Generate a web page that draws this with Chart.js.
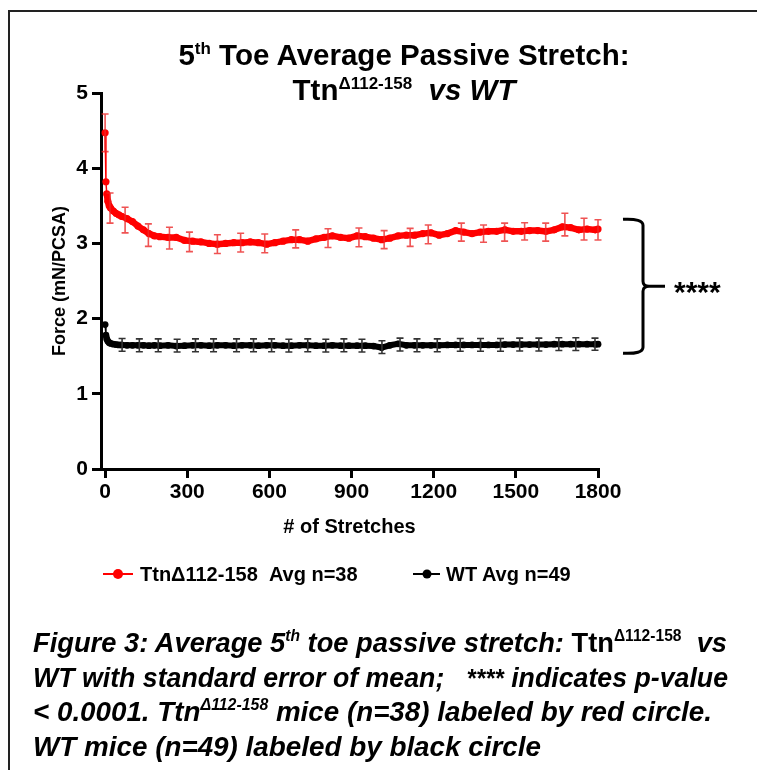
<!DOCTYPE html>
<html>
<head>
<meta charset="utf-8">
<script src="https://cdn.jsdelivr.net/npm/chart.js@4"></script>
<style>
  body { margin: 0; background: #fff; }
  #page { position: relative; width: 757px; height: 770px; overflow: hidden; font-family: "Liberation Sans", Arial, sans-serif; color: #000; }
  #frame { position: absolute; left: 8px; top: 10px; width: 800px; height: 800px; border-top: 2px solid #222; border-left: 2px solid #222; }
  #myChart { position: absolute; left: 0; top: 0; }
  .title { position: absolute; left: 0; width: 808px; text-align: center; font-weight: bold; font-size: 29.5px; line-height: 29.5px; white-space: nowrap; }
  .tsup { font-size: 17px; position: relative; top: -11px; }
  .cap { position: absolute; left: 33px; font-family: "Liberation Sans Narrow", "Arial Narrow", "Liberation Sans", sans-serif; font-weight: bold; font-size: 28px; line-height: 28px; white-space: nowrap; transform-origin: 0 0; }
  .cap i { font-style: italic; }
  .csup { font-size: 16px; position: relative; top: -11px; }
  .stars { font-size: 25px; }
  .legend { position: absolute; top: 564px; font-weight: bold; font-size: 20px; line-height: 20px; white-space: nowrap; }
</style>
</head>
<body>
<div id="page">
  <div id="frame"></div>
  <canvas id="myChart" width="757" height="770"></canvas>
  <div class="title" style="top:40px">5<span class="tsup">th</span> Toe Average Passive Stretch:</div>
  <div class="title" style="top:75px">Ttn<span class="tsup">Δ112-158</span>&nbsp; <i>vs WT</i></div>

  <svg style="position:absolute;left:100px;top:566px" width="40" height="16">
    <line x1="3" y1="8" x2="33" y2="8" stroke="#ff0000" stroke-width="2"/>
    <circle cx="18" cy="8" r="5" fill="#ff0000"/>
  </svg>
  <div class="legend" style="left:140px">TtnΔ112-158&nbsp; Avg n=38</div>
  <svg style="position:absolute;left:410px;top:566px" width="36" height="16">
    <line x1="3" y1="8" x2="30" y2="8" stroke="#000" stroke-width="2"/>
    <circle cx="17" cy="8" r="4.5" fill="#000"/>
  </svg>
  <div class="legend" style="left:446px">WT Avg n=49</div>

  <div class="cap" data-right="727" style="top:629px"><i>Figure 3: Average 5<span class="csup">th</span> toe passive stretch:</i> Ttn<span class="csup">Δ112-158</span>&nbsp; <i>vs</i></div>
  <div class="cap" data-right="728" style="top:664px"><i>WT with standard error of mean; &nbsp; <span class="stars">****</span> indicates p-value</i></div>
  <div class="cap" data-right="712" style="top:698px"><i>&lt; 0.0001. Ttn<span class="csup">Δ112-158</span> mice (n=38) labeled by red circle.</i></div>
  <div class="cap" data-right="541" style="top:733px"><i>WT mice (n=49) labeled by black circle</i></div>
</div>
<script>
const fontFamily = "'Liberation Sans', Arial, sans-serif";

// # of stretches where the averaged curves were read
const stretches = [0, 3, 6, 10, 15, 20, 30, 40, 50, 60, 80, 100, 120, 140, 160, 180, 200, 230, 260, 290,
  320, 350, 380, 410, 440, 470, 500, 530, 560, 590, 620, 650, 680, 710, 740, 770, 800, 830, 860, 890,
  920, 950, 980, 1010, 1040, 1070, 1100, 1130, 1160, 1190, 1220, 1250, 1280, 1310, 1340, 1370, 1400, 1430, 1460, 1490,
  1520, 1550, 1580, 1610, 1640, 1670, 1700, 1730, 1760, 1790, 1800];

const ttnMean = [4.47, 3.82, 3.66, 3.56, 3.50, 3.47, 3.43, 3.40, 3.38, 3.36, 3.33, 3.29, 3.23, 3.18, 3.13, 3.10, 3.09, 3.08, 3.08, 3.04,
  3.03, 3.02, 3.00, 2.99, 3.00, 3.01, 3.01, 3.02, 3.01, 2.99, 3.01, 3.03, 3.05, 3.05, 3.03, 3.06, 3.08, 3.10, 3.08, 3.07,
  3.10, 3.09, 3.07, 3.05, 3.07, 3.10, 3.11, 3.11, 3.13, 3.14, 3.11, 3.13, 3.17, 3.15, 3.13, 3.15, 3.16, 3.16, 3.18, 3.16,
  3.16, 3.17, 3.17, 3.16, 3.18, 3.22, 3.21, 3.18, 3.19, 3.18, 3.19];

const wtMean = [1.92, 1.78, 1.73, 1.70, 1.68, 1.67, 1.66, 1.655, 1.65, 1.65, 1.645, 1.645, 1.645, 1.645, 1.64, 1.645, 1.64, 1.645, 1.635, 1.64,
  1.645, 1.645, 1.64, 1.645, 1.645, 1.64, 1.645, 1.645, 1.64, 1.645, 1.645, 1.64, 1.64, 1.645, 1.645, 1.64, 1.64, 1.645, 1.64, 1.64,
  1.64, 1.64, 1.635, 1.615, 1.645, 1.665, 1.645, 1.645, 1.645, 1.645, 1.645, 1.65, 1.65, 1.65, 1.65, 1.65, 1.65, 1.65, 1.655, 1.655,
  1.655, 1.655, 1.655, 1.655, 1.66, 1.66, 1.66, 1.66, 1.66, 1.66, 1.66];

// error bars (standard error of mean) shown at a subset of stretches
const ttnBarStretch = [0, 18, 73, 158, 235, 308, 410, 495, 583, 696, 814, 927, 1019, 1114, 1180, 1301, 1382, 1459, 1532, 1609, 1679, 1749, 1800];
const ttnBarMean = [4.47, 3.47, 3.31, 3.11, 3.07, 3.02, 2.99, 3.01, 3.00, 3.06, 3.07, 3.08, 3.05, 3.08, 3.12, 3.15, 3.13, 3.15, 3.16, 3.15, 3.25, 3.19, 3.18];
const ttnBarSem = [0.25, 0.20, 0.17, 0.15, 0.145, 0.13, 0.125, 0.125, 0.125, 0.12, 0.125, 0.125, 0.12, 0.12, 0.125, 0.12, 0.115, 0.12, 0.115, 0.12, 0.15, 0.145, 0.135];

const wtBarStretch = [62, 125, 194, 263, 330, 396, 480, 542, 608, 671, 740, 806, 872, 938, 1011, 1077, 1139, 1213, 1297, 1371, 1444, 1514, 1584, 1657, 1719, 1789];
const wtBarMean = [1.65, 1.645, 1.645, 1.64, 1.645, 1.645, 1.645, 1.645, 1.645, 1.64, 1.645, 1.64, 1.645, 1.64, 1.62, 1.655, 1.645, 1.645, 1.65, 1.65, 1.65, 1.655, 1.655, 1.66, 1.66, 1.66];
const wtBarSem = [0.085, 0.085, 0.085, 0.085, 0.085, 0.085, 0.085, 0.085, 0.085, 0.085, 0.085, 0.085, 0.085, 0.085, 0.085, 0.085, 0.085, 0.085, 0.085, 0.085, 0.085, 0.085, 0.085, 0.085, 0.085, 0.08];

const xTicks = [0, 300, 600, 900, 1200, 1500, 1800];
const yTicks = [0, 1, 2, 3, 4, 5];

// significance bracket spans the two curves
const bracketTop = 3.32;
const bracketBottom = 1.54;
const bracketLabel = "****";

const errorBars = {
  id: "errorBars",
  afterDatasetsDraw(chart) {
    const { ctx, scales: { x, y } } = chart;
    const draw = (xs, means, sems, color) => {
      ctx.save();
      ctx.strokeStyle = color;
      ctx.lineWidth = 1.6;
      xs.forEach((s, i) => {
        const px = x.getPixelForValue(s);
        const top = y.getPixelForValue(means[i] + sems[i]);
        const bot = y.getPixelForValue(means[i] - sems[i]);
        ctx.beginPath();
        ctx.moveTo(px, top); ctx.lineTo(px, bot);
        ctx.moveTo(px - 3.5, top); ctx.lineTo(px + 3.5, top);
        ctx.moveTo(px - 3.5, bot); ctx.lineTo(px + 3.5, bot);
        ctx.stroke();
      });
      ctx.restore();
    };
    draw(ttnBarStretch, ttnBarMean, ttnBarSem, "rgba(235, 40, 40, 0.8)");
    draw(wtBarStretch, wtBarMean, wtBarSem, "#333");
  },
};

const bracket = {
  id: "bracket",
  afterDraw(chart) {
    const { ctx, chartArea, scales: { y } } = chart;
    const x0 = chartArea.right + 25;
    const x1 = chartArea.right + 45;
    const tip = chartArea.right + 67;
    const yT = y.getPixelForValue(bracketTop);
    const yB = y.getPixelForValue(bracketBottom);
    const mid = (yT + yB) / 2;
    ctx.save();
    ctx.strokeStyle = "#000";
    ctx.lineWidth = 3;
    ctx.beginPath();
    ctx.moveTo(x0, yT);
    ctx.quadraticCurveTo(x1, yT - 1, x1, yT + 6);
    ctx.lineTo(x1, mid - 5);
    ctx.quadraticCurveTo(x1, mid, x1 + 6, mid);
    ctx.quadraticCurveTo(x1, mid, x1, mid + 5);
    ctx.lineTo(x1, yB - 6);
    ctx.quadraticCurveTo(x1, yB + 1, x0, yB);
    ctx.moveTo(x1 + 5, mid);
    ctx.lineTo(tip, mid);
    ctx.stroke();
    ctx.fillStyle = "#000";
    ctx.font = "bold 30px " + fontFamily;
    ctx.textBaseline = "alphabetic";
    ctx.fillText(bracketLabel, chartArea.right + 76, mid + 16);
    ctx.restore();
  },
};

const tickFont = { family: fontFamily, size: 21, weight: "bold" };
// the first drops of each curve are separate points, not part of the thick band
const thinStart = (n) => (c) => (c.p0DataIndex < n ? 1.5 : undefined);

new Chart(document.getElementById("myChart"), {
  type: "line",
  data: {
    datasets: [
      {
        label: "TtnΔ112-158  Avg n=38",
        data: stretches.map((s, i) => ({ x: s, y: ttnMean[i] })),
        borderColor: "#ff0000",
        backgroundColor: "#ff0000",
        borderWidth: 6.5,
        pointRadius: 3.6,
        pointBorderWidth: 0,
        tension: 0,
        segment: { borderWidth: thinStart(2) },
      },
      {
        label: "WT Avg n=49",
        data: stretches.map((s, i) => ({ x: s, y: wtMean[i] })),
        borderColor: "#000",
        backgroundColor: "#000",
        borderWidth: 6,
        pointRadius: 3.4,
        pointBorderWidth: 0,
        tension: 0,
        segment: { borderWidth: thinStart(1) },
      },
    ],
  },
  options: {
    responsive: false,
    animation: false,
    clip: false,
    layout: { padding: { top: 93, right: 159, bottom: 221, left: 0 } },
    plugins: { legend: { display: false }, tooltip: { enabled: false } },
    scales: {
      x: {
        type: "linear",
        min: -15,
        max: 1800,
        afterBuildTicks: (s) => { s.ticks = xTicks.map((v) => ({ value: v })); },
        afterFit: (s) => { s.height = 80; },
        border: { color: "#000", width: 3 },
        grid: { drawOnChartArea: false, drawTicks: true, tickLength: 9, tickWidth: 3, tickColor: "#000", color: "#000", lineWidth: 3 },
        ticks: { color: "#000", font: tickFont, padding: 2, maxRotation: 0, autoSkip: false, callback: (v) => String(v) },
        title: { display: true, text: "# of Stretches", color: "#000", font: { family: fontFamily, size: 20, weight: "bold" }, padding: { top: 0, bottom: 10 } },
      },
      y: {
        min: 0,
        max: 5,
        afterBuildTicks: (s) => { s.ticks = yTicks.map((v) => ({ value: v })); },
        afterFit: (s) => { s.width = 101; },
        border: { color: "#000", width: 3 },
        grid: { drawOnChartArea: false, drawTicks: true, tickLength: 9, tickWidth: 3, tickColor: "#000", color: "#000", lineWidth: 3 },
        ticks: { color: "#000", font: tickFont, padding: 4, callback: (v) => String(v) },
        title: { display: true, text: "Force (mN/PCSA)", color: "#000", font: { family: fontFamily, size: 18, weight: "bold" }, padding: { top: 49, bottom: 0 } },
      },
    },
  },
  plugins: [errorBars, bracket],
});

// fit each caption line to the width it has in the figure (narrow font)
document.querySelectorAll(".cap").forEach((el) => {
  const w = el.getBoundingClientRect().width;
  const target = Number(el.dataset.right) - 33;
  el.style.transform = "scaleX(" + (target / w).toFixed(4) + ")";
});
</script>
</body>
</html>
